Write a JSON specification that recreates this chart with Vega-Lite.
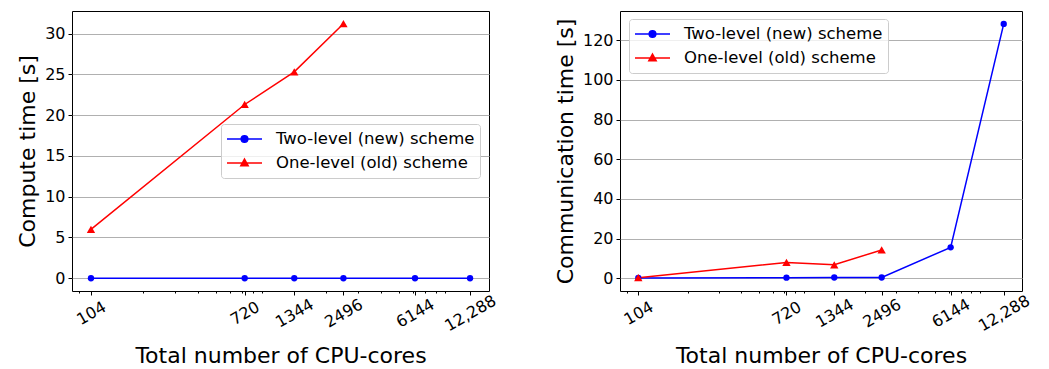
{
  "$schema": "https://vega.github.io/schema/vega-lite/v6.json",
  "background": "white",
  "padding": {"left": 15, "top": 10, "right": 5, "bottom": 5},
  "bounds": "flush",
  "spacing": 131,
  "config": {
    "font": "DejaVu Sans",
    "view": {"stroke": "black", "strokeWidth": 1},
    "axis": {
      "domain": false,
      "labelColor": "black",
      "tickColor": "black",
      "titleColor": "black",
      "labelFont": "DejaVu Sans",
      "titleFont": "DejaVu Sans",
      "labelFontSize": 16,
      "titleFontSize": 22,
      "titleFontWeight": "normal",
      "tickSize": 4,
      "tickWidth": 1
    },
    "legend": {
      "symbolSize": 1225,
      "symbolStrokeWidth": 1.5,
      "clipHeight": 20,
      "rowPadding": 4,
      "padding": 5,
      "labelOffset": 13,
      "labelLimit": 0,
      "labelFontSize": 16.5,
      "labelFont": "DejaVu Sans",
      "labelColor": "black",
      "fillColor": "rgba(255,255,255,0.8)",
      "strokeColor": "#cccccc",
      "cornerRadius": 3
    }
  },
  "datasets": {
    "compute": [
      {"cores": 104, "scheme": "Two-level (new) scheme", "t": 0},
      {"cores": 720, "scheme": "Two-level (new) scheme", "t": 0},
      {"cores": 1344, "scheme": "Two-level (new) scheme", "t": 0},
      {"cores": 2496, "scheme": "Two-level (new) scheme", "t": 0},
      {"cores": 6144, "scheme": "Two-level (new) scheme", "t": 0},
      {"cores": 12288, "scheme": "Two-level (new) scheme", "t": 0},
      {"cores": 104, "scheme": "One-level (old) scheme", "t": 6.0},
      {"cores": 720, "scheme": "One-level (old) scheme", "t": 21.3},
      {"cores": 1344, "scheme": "One-level (old) scheme", "t": 25.3},
      {"cores": 2496, "scheme": "One-level (old) scheme", "t": 31.2}
    ],
    "comm": [
      {"cores": 104, "scheme": "Two-level (new) scheme", "t": 0.2},
      {"cores": 720, "scheme": "Two-level (new) scheme", "t": 0.3},
      {"cores": 1344, "scheme": "Two-level (new) scheme", "t": 0.4},
      {"cores": 2496, "scheme": "Two-level (new) scheme", "t": 0.4},
      {"cores": 6144, "scheme": "Two-level (new) scheme", "t": 15.6},
      {"cores": 12288, "scheme": "Two-level (new) scheme", "t": 128.2},
      {"cores": 104, "scheme": "One-level (old) scheme", "t": 0.3},
      {"cores": 720, "scheme": "One-level (old) scheme", "t": 8.0},
      {"cores": 1344, "scheme": "One-level (old) scheme", "t": 6.8},
      {"cores": 2496, "scheme": "One-level (old) scheme", "t": 14.3}
    ]
  },
  "hconcat": [
    {
      "width": 417,
      "height": 280,
      "data": {"name": "compute"},
      "layer": [
        {
          "mark": {"type": "line", "strokeWidth": 1.5},
          "encoding": {
            "x": {"field": "cores", "type": "quantitative", "scale": {"type": "log", "domain": [81.9, 15600], "nice": false},
              "axis": {"values": [104, 720, 1344, 2496, 6144, 12288], "labelExpr": "datum.value == 12288 ? '12,288' : format(datum.value, 'd')", "labelAngle": -30, "labelAlign": "center", "labelBaseline": "middle", "labelPadding": 18, "grid": false, "title": "Total number of CPU-cores", "titleX": 208.5, "titleY": 71.7, "titleBaseline": "alphabetic", "orient": "bottom"}},
            "y": {"field": "t", "type": "quantitative", "scale": {"domain": [-1.56, 32.76], "nice": false, "zero": false},
              "axis": {"values": [0, 5, 10, 15, 20, 25, 30], "grid": true, "gridColor": "#b0b0b0", "gridWidth": 1, "labelPadding": 3, "title": "Compute time [s]", "titleX": -38, "titleY": 140, "titleBaseline": "alphabetic"}},
            "color": {"field": "scheme", "type": "nominal", "scale": {"domain": ["Two-level (new) scheme", "One-level (old) scheme"], "range": ["#0000ff", "#ff0000"]},
              "legend": {"title": null, "orient": "none", "legendX": 149, "legendY": 113}}
          }
        },
        {
          "transform": [{"filter": "datum.scheme === 'Two-level (new) scheme'"}],
          "mark": {"type": "point", "shape": "circle", "filled": true, "opacity": 1, "size": 40, "color": "#0000ff"},
          "encoding": {
            "x": {"field": "cores", "type": "quantitative", "scale": {"type": "log", "domain": [81.9, 15600], "nice": false}, "axis": null},
            "y": {"field": "t", "type": "quantitative"}
          }
        },
        {
          "transform": [{"filter": "datum.scheme === 'One-level (old) scheme'"}],
          "mark": {"type": "point", "shape": "triangle-up", "filled": true, "opacity": 1, "size": 70, "color": "#ff0000"},
          "encoding": {
            "x": {"field": "cores", "type": "quantitative", "scale": {"type": "log", "domain": [81.9, 15600], "nice": false}, "axis": null},
            "y": {"field": "t", "type": "quantitative"}
          }
        },
        {
          "transform": [{"filter": "false"}],
          "mark": {"type": "point", "filled": true, "opacity": 1},
          "encoding": {
            "color": {"field": "scheme", "type": "nominal", "legend": {"title": null, "orient": "none", "legendX": 149, "legendY": 113}},
            "shape": {"field": "scheme", "type": "nominal",
              "scale": {"domain": ["Two-level (new) scheme", "One-level (old) scheme"], "range": ["M-1,0H1M-0.19,0A0.19,0.19 0 1,0 0.19,0A0.19,0.19 0 1,0 -0.19,0Z", "M-1,0H1M0,-0.22L0.21,0.16L-0.21,0.16Z"]},
              "legend": {"title": null, "orient": "none", "legendX": 149, "legendY": 113}}
          }
        },
        {
          "mark": {"type": "point", "opacity": 0},
          "encoding": {
            "x": {"field": "cores", "type": "quantitative", "scale": {"type": "log", "domain": [81.9, 15600], "nice": false},
              "axis": {"orient": "bottom", "values": [90, 200, 300, 400, 500, 600, 700, 800, 900, 2000, 3000, 4000, 5000, 6000, 7000, 8000, 9000], "labels": false, "tickSize": 2, "grid": false, "title": null}}
          }
        }
      ],
      "resolve": {"axis": {"x": "independent"}}
    },
    {
      "width": 402,
      "height": 280,
      "data": {"name": "comm"},
      "layer": [
        {
          "mark": {"type": "line", "strokeWidth": 1.5},
          "encoding": {
            "x": {"field": "cores", "type": "quantitative", "scale": {"type": "log", "domain": [81.9, 15600], "nice": false},
              "axis": {"values": [104, 720, 1344, 2496, 6144, 12288], "labelExpr": "datum.value == 12288 ? '12,288' : format(datum.value, 'd')", "labelAngle": -30, "labelAlign": "center", "labelBaseline": "middle", "labelPadding": 18, "grid": false, "title": "Total number of CPU-cores", "titleX": 201, "titleY": 71.7, "titleBaseline": "alphabetic", "orient": "bottom"}},
            "y": {"field": "t", "type": "quantitative", "scale": {"domain": [-6.4, 134.7], "nice": false, "zero": false},
              "axis": {"values": [0, 20, 40, 60, 80, 100, 120], "grid": true, "gridColor": "#b0b0b0", "gridWidth": 1, "labelPadding": 3, "title": "Communication time [s]", "titleX": -48, "titleY": 140, "titleBaseline": "alphabetic"}},
            "color": {"field": "scheme", "type": "nominal", "scale": {"domain": ["Two-level (new) scheme", "One-level (old) scheme"], "range": ["#0000ff", "#ff0000"]},
              "legend": {"title": null, "orient": "none", "legendX": 9, "legendY": 8}}
          }
        },
        {
          "transform": [{"filter": "datum.scheme === 'Two-level (new) scheme'"}],
          "mark": {"type": "point", "shape": "circle", "filled": true, "opacity": 1, "size": 40, "color": "#0000ff"},
          "encoding": {
            "x": {"field": "cores", "type": "quantitative", "scale": {"type": "log", "domain": [81.9, 15600], "nice": false}, "axis": null},
            "y": {"field": "t", "type": "quantitative"}
          }
        },
        {
          "transform": [{"filter": "datum.scheme === 'One-level (old) scheme'"}],
          "mark": {"type": "point", "shape": "triangle-up", "filled": true, "opacity": 1, "size": 70, "color": "#ff0000"},
          "encoding": {
            "x": {"field": "cores", "type": "quantitative", "scale": {"type": "log", "domain": [81.9, 15600], "nice": false}, "axis": null},
            "y": {"field": "t", "type": "quantitative"}
          }
        },
        {
          "transform": [{"filter": "false"}],
          "mark": {"type": "point", "filled": true, "opacity": 1},
          "encoding": {
            "color": {"field": "scheme", "type": "nominal", "legend": {"title": null, "orient": "none", "legendX": 9, "legendY": 8}},
            "shape": {"field": "scheme", "type": "nominal",
              "scale": {"domain": ["Two-level (new) scheme", "One-level (old) scheme"], "range": ["M-1,0H1M-0.19,0A0.19,0.19 0 1,0 0.19,0A0.19,0.19 0 1,0 -0.19,0Z", "M-1,0H1M0,-0.22L0.21,0.16L-0.21,0.16Z"]},
              "legend": {"title": null, "orient": "none", "legendX": 9, "legendY": 8}}
          }
        },
        {
          "mark": {"type": "point", "opacity": 0},
          "encoding": {
            "x": {"field": "cores", "type": "quantitative", "scale": {"type": "log", "domain": [81.9, 15600], "nice": false},
              "axis": {"orient": "bottom", "values": [90, 200, 300, 400, 500, 600, 700, 800, 900, 2000, 3000, 4000, 5000, 6000, 7000, 8000, 9000], "labels": false, "tickSize": 2, "grid": false, "title": null}}
          }
        }
      ],
      "resolve": {"axis": {"x": "independent"}}
    }
  ],
  "resolve": {"scale": {"color": "independent", "shape": "independent"}}
}
